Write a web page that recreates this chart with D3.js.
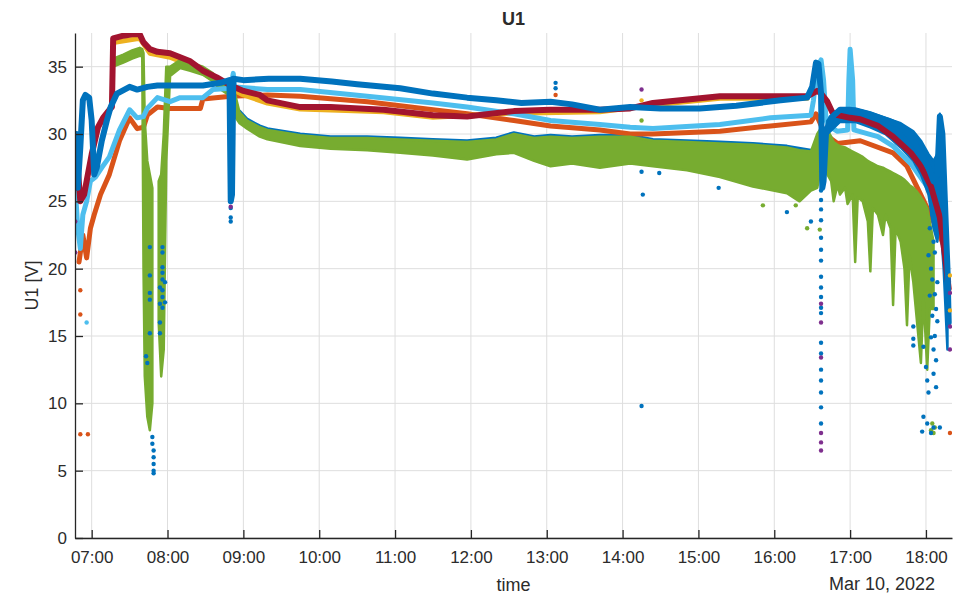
<!DOCTYPE html>
<html>
<head>
<meta charset="utf-8">
<script src="https://cdn.jsdelivr.net/npm/d3@7"></script>
<style>
body { margin: 0; background: #fff; }
svg text { font-family: "Liberation Sans", Arial, sans-serif; fill: #2b2b2b; }
</style>
</head>
<body>
<svg id="drawing_region"></svg>
<script>
// x domain ends and tick settings
const timeStart = "06:46:48";
const timeEnd = "18:20:36";
const yTicks = [0, 5, 10, 15, 20, 25, 30, 35];

// series 1 (blue, mostly hidden under green)
const blueLow = [
    ["08:57",31.7],["09:03",31.1],["09:13",30.6],["09:19",30.4],["09:45",30.0],["10:09",29.8],
    ["10:38",29.8],["11:04",29.7],["11:30",29.6],["11:57",29.5],["12:20",29.7],["12:34",30.1],
    ["12:50",29.8],["13:03",29.9],["13:20",29.8],["13:42",29.9],["14:06",29.9],["14:24",29.6],
    ["14:51",29.5],["15:17",29.4],["15:43",29.3],["16:10",29.1],["16:29",28.8]
];
// series 2 (orange)
const orange = [
    ["06:50",20.5],["06:53",22.5],["06:56",20.8],["06:59",23.0],["07:02",24.0],["07:07",25.5],
    ["07:14",27.0],["07:22",29.5],["07:30",31.2],["07:36",30.4],["07:41",30.5],["07:44",31.4],
    ["07:52",32.0],["08:02",31.9],["08:18",31.9],["08:26",31.9],["08:28",32.6],["08:50",32.8],
    ["09:19",32.9],["09:45",32.8],["10:38",32.4],["11:30",31.8],["11:57",31.5],["12:34",31.0],
    ["13:03",30.6],["13:42",30.3],["14:06",30.0],["14:24",30.0],["15:17",30.2],["15:57",30.6],
    ["16:29",30.9],["16:33",31.5],["16:40",30.0],["16:50",29.3],["17:08",29.5],["17:34",28.6],
    ["17:45",27.6],["18:01",24.5],["18:09",22.9],["18:15",21.5]
];
// series 3 (yellow, under red)
const yellow = [
    ["07:17",36.8],["07:38",37.1],["07:46",36.0],["08:02",35.7],["08:18",35.1],["08:39",33.9],
    ["09:00",32.9],["09:19",32.3],["09:45",31.85],["10:51",31.65],["11:30",31.25],["12:34",31.55],
    ["13:42",31.65],["14:24",32.15],["15:17",32.65],["16:26",32.65]
];
// series 5 (green): time, low edge, high edge
const green = [
    ["07:17",35.0,35.6],["07:25",35.3,35.9],["07:32",35.6,36.2],["07:38",35.8,36.4],["07:40",35.8,36.3],
    ["07:41",20.0,36.0],["07:42",12.0,31.0],["07:44",9.0,28.0],["07:46",8.0,27.0],["07:48",10.0,26.0],
    ["07:49",null,null],
    ["07:53",16.0,26.5],["07:55",12.0,27.0],["07:57",14.0,30.0],["07:59",28.0,35.0],
    ["08:02",34.3,35.0],["08:10",34.9,35.5],["08:18",34.7,35.3],["08:28",34.4,35.0],["08:36",33.9,34.5],
    ["08:42",33.3,33.9],["08:50",32.8,33.6],["08:52",31.5,33.5],["08:57",30.8,31.6],["09:03",30.4,31.0],
    ["09:13",29.8,30.5],["09:19",29.6,30.3],["09:45",29.1,29.9],["10:09",28.9,29.7],["10:38",28.8,29.7],
    ["11:04",28.6,29.6],["11:30",28.4,29.5],["11:57",28.1,29.4],["12:20",28.5,29.6],["12:34",28.6,30.0],
    ["12:50",28.0,29.7],["13:03",27.6,29.8],["13:20",27.8,29.7],["13:42",27.5,29.8],["14:06",27.8,29.8],
    ["14:24",27.6,29.5],["14:51",27.3,29.4],["15:17",26.8,29.3],["15:43",26.1,29.2],["16:10",25.6,29.0],
    ["16:20",25.0,28.8],["16:29",25.8,28.7],["16:34",26.0,30.0],["16:36",27.0,30.3],
    ["16:38",null,null],
    ["16:42",27.0,30.3],["16:45",26.5,29.8],["16:47",25.0,29.4],["16:50",26.2,29.2],["16:52",25.5,29.1],
    ["16:56",26.0,29.0],["16:58",24.8,28.9],["17:02",25.5,28.7],["17:04",20.5,28.6],["17:06",25.3,28.5],
    ["17:10",25.0,28.3],["17:14",23.5,28.0],["17:16",19.8,27.9],["17:18",24.5,27.8],["17:22",24.0,27.6],
    ["17:26",22.5,27.5],["17:28",24.0,27.4],["17:32",23.0,27.2],["17:34",17.3,27.1],["17:36",23.0,27.0],
    ["17:40",22.0,26.8],["17:43",20.0,26.6],["17:45",15.8,26.4],["17:47",21.0,26.2],["17:50",19.0,26.0],
    ["17:53",16.0,25.7],["17:56",13.0,25.3],["17:58",18.0,25.0],["18:01",12.5,24.5],["18:03",17.0,23.5],
    ["18:06",17.0,22.0]
];
// series 6 (light blue)
const lightBlue = [
    ["06:47",26.0],["06:49",23.0],["06:51",21.5],["06:53",24.0],["06:56",25.0],["06:59",26.5],
    ["07:03",26.8],["07:08",27.5],["07:14",28.3],["07:22",30.3],["07:30",31.8],["07:36",31.2],
    ["07:41",31.3],["07:44",31.9],["07:52",32.7],["08:02",32.4],["08:10",32.7],["08:28",32.7],
    ["08:36",33.3],["08:50",33.4],["08:52",34.5],["08:53",33.5],["09:19",33.3],["09:45",33.3],
    ["10:38",32.8],["11:30",32.3],["11:57",32.0],["12:34",31.5],["13:03",31.0],["13:42",30.7],
    ["14:06",30.5],["14:24",30.4],["15:17",30.7],["15:57",31.2],["16:29",31.4],["16:31",32.5],
    ["16:34",35.0],["16:37",35.5],["16:39",34.0],["16:41",31.0],["16:43",30.6],["16:50",30.2],
    ["16:58",30.3],["16:59",34.0],["17:00",36.3],["17:02",34.0],["17:03",30.3],["17:22",29.8],
    ["17:34",29.1],["17:48",27.8],["18:01",26.1],["18:09",24.1],["18:15",21.6],["18:18",19.0]
];
// series 7 (dark red)
const red = [
    ["06:47",26.0],["06:49",27.5],["06:51",25.0],["06:54",25.5],["06:57",27.0],["07:00",28.5],
    ["07:05",30.5],["07:09",31.2],["07:14",31.8],["07:16",32.0],["07:17",37.1],["07:25",37.3],
    ["07:32",37.4],["07:38",37.4],["07:41",36.8],["07:46",36.3],["07:52",36.1],["08:02",36.0],
    ["08:10",35.7],["08:18",35.4],["08:28",34.7],["08:39",34.2],["08:50",33.6],["09:00",33.2],
    ["09:13",32.9],["09:19",32.5],["09:45",32.0],["10:09",32.0],["10:51",31.8],["11:30",31.4],
    ["11:57",31.3],["12:34",31.7],["13:03",31.8],["13:42",31.8],["14:06",31.9],["14:24",32.3],
    ["15:17",32.8],["16:10",32.8],["16:26",32.8],["16:34",33.2],["16:37",33.0],["16:42",32.4],
    ["16:46",31.6],["16:50",31.4],["17:00",31.2],["17:08",31.1],["17:22",30.6],["17:34",29.8],
    ["17:48",28.6],["17:56",27.6],["18:04",26.1],["18:11",23.8],["18:15",21.0],["18:18",18.5]
];
// series 8 (blue, top band)
const blueTop = [
    ["06:47",27.0],["06:48",30.0],["06:49",26.0],["06:51",29.0],["06:53",32.5],["06:55",32.9],
    ["06:58",32.7],["07:00",31.0],["07:02",27.0],["07:04",27.5],["07:08",29.5],["07:12",31.0],
    ["07:15",32.0],["07:20",33.0],["07:30",33.5],["07:36",33.3],["07:44",33.5],["07:52",33.6],
    ["08:10",33.6],["08:28",33.6],["08:42",33.8],["08:49",34.0],["08:50",25.0],["08:51",25.5],
    ["08:52",34.1],["09:00",34.0],["09:20",34.1],["09:45",34.1],["10:10",33.9],["10:30",33.7],
    ["11:04",33.4],["11:30",33.0],["11:57",32.7],["12:20",32.5],["12:40",32.3],["13:03",32.4],
    ["13:20",32.2],["13:42",31.8],["14:06",32.0],["14:30",31.9],["15:01",31.9],["15:30",32.1],
    ["16:05",32.5],["16:26",32.7],["16:30",33.5],["16:33",35.3],["16:35",35.2],["16:37",33.0],
    ["16:38",26.0],["16:39",26.5],["16:41",30.2],["16:45",31.2],["16:52",31.8],["17:00",31.8],
    ["17:14",31.5],["17:30",31.0],["17:40",30.6],["17:50",29.5],["17:56",28.5],["18:02",27.5],
    ["18:06",26.5],["18:09",27.0],["18:11",31.3],["18:13",30.0],["18:15",25.0],["18:17",20.0],
    ["18:18",16.0]
];
// spread of the top blue band after 16:40: time, low, high
const blueSpread = [
    ["16:42",30.0,31.0],["16:52",30.9,31.9],["17:04",30.9,31.9],["17:16",30.5,31.6],["17:28",30.0,31.2],
    ["17:40",29.0,30.8],["17:50",28.0,30.2],["17:56",27.0,29.5],["18:02",25.5,28.5],["18:06",23.0,28.0],
    ["18:09",22.0,28.5],["18:11",24.0,31.5],["18:14",20.0,29.0],["18:17",14.0,22.0]
];

// scattered single points
const blueDots = [
    ["07:43",13.5],["07:44",13.0],["07:46",21.6],["07:46",19.5],["07:46",18.2],["07:46",17.7],["07:46",15.2],
    ["07:48",7.5],["07:48",7.0],["07:49",6.5],["07:49",6.0],["07:49",5.5],["07:49",5.0],["07:49",4.8],
    ["07:56",21.6],["07:56",21.2],["07:56",20.1],["07:56",19.7],["07:56",19.2],["07:56",18.4],["07:56",17.9],["07:56",17.1],
    ["07:54",18.6],["07:54",17.4],["07:54",16.0],["07:54",15.2],["07:58",19.0],["07:58",17.5],
    ["08:50",24.5],["08:50",23.8],["08:50",23.5],
    ["13:07",33.8],["13:07",33.4],["14:15",9.8],["14:15",27.2],["14:29",27.1],["15:16",26.0],["14:16",25.5],
    ["16:10",24.2],["16:29",23.5],
    ["16:37",25.8],["16:37",25.1],["16:37",24.4],["16:37",23.6],["16:37",22.3],["16:37",21.4],["16:37",20.6],
    ["16:37",19.4],["16:37",18.6],["16:37",17.9],["16:37",17.1],["16:37",16.7],["16:37",14.5],["16:37",13.7],
    ["16:37",12.5],["16:37",11.7],["16:37",10.8],["16:37",9.7],["16:37",8.5],
    ["17:50",15.7],["17:50",14.8],["17:50",14.3],["17:58",14.2],["18:00",12.7],["18:01",11.7],["18:02",10.8],
    ["18:06",12.2],["18:08",11.2],["17:58",9.0],["18:01",8.5],["18:06",8.2],["18:11",8.2],["18:04",7.8],
    ["17:57",7.9],["18:03",18.0],["18:05",16.5],["18:07",15.0],["18:09",19.0],["18:02",21.0],["18:06",22.0],
    ["18:04",20.0],["18:05",19.2],["18:07",18.1],["18:08",17.0],["18:09",16.1],["18:04",14.9],["18:06",14.0],
    ["18:08",13.2],["18:03",23.0],["18:05",24.0],["18:07",21.2]
];
const purpleDots = [
    ["06:47",21.2],["06:47",23.5],["08:50",24.6],["14:15",33.3],
    ["16:37",17.4],["16:37",16.0],["16:37",13.4],["16:37",7.8],["16:37",7.1],["16:37",6.5],
    ["18:19",18.2],["18:19",15.7],["18:19",14.0]
];
const orangeDots = [["06:51",7.7],["06:57",7.7],["06:51",18.4],["06:51",16.6],["13:07",32.9],["18:19",7.8]];
const yellowDots = [["14:15",32.5],["18:19",19.5],["18:19",16.9]];
const greenDots = [
    ["14:15",31.0],["15:51",24.7],["16:17",24.7],["16:26",23.0],["16:36",22.9],
    ["18:04",8.0],["18:06",7.8],["18:07",8.2],["18:05",8.5]
];
const lightBlueDots = [["06:56",16.0]];

const config = {
    parent: '#drawing_region',
    width: 970,
    height: 598,
    margin: {top: 33, right: 18, bottom: 60, left: 75},
    title: 'U1',
    xlabel: 'time',
    ylabel: 'U1 [V]',
    datelabel: 'Mar 10, 2022'
};

const colors = {
    blue: '#0072BD', orange: '#D95319', yellow: '#EDB120', purple: '#7E2F8E',
    green: '#77AC30', lightBlue: '#4DBEEE', red: '#A2142F'
};

const parseTime = d3.timeParse("%H:%M");
const parseFull = d3.timeParse("%H:%M:%S");

const svg = d3.select(config.parent)
    .attr('width', config.width)
    .attr('height', config.height);

const inner_width = config.width - config.margin.left - config.margin.right;
const inner_height = config.height - config.margin.top - config.margin.bottom;

const chart = svg.append('g')
    .attr('transform', `translate(${config.margin.left}, ${config.margin.top})`);

const xscale = d3.scaleTime()
    .domain([parseFull(timeStart), parseFull(timeEnd)])
    .range([0, inner_width]);

const yscale = d3.scaleLinear()
    .domain([0, 37.5])
    .range([inner_height, 0]);

const hourTicks = d3.timeHour.range(parseTime("07:00"), parseTime("18:01"));

// grid
chart.append('g').selectAll('line').data(hourTicks).join('line')
    .attr('x1', d => xscale(d)).attr('x2', d => xscale(d))
    .attr('y1', 0).attr('y2', inner_height)
    .attr('stroke', '#dedede').attr('stroke-width', 1);
chart.append('g').selectAll('line').data(yTicks).join('line')
    .attr('x1', 0).attr('x2', inner_width)
    .attr('y1', d => yscale(d)).attr('y2', d => yscale(d))
    .attr('stroke', '#dedede').attr('stroke-width', 1);

svg.append('clipPath').attr('id', 'clip')
    .append('rect').attr('width', inner_width).attr('height', inner_height);

const plot = chart.append('g').attr('clip-path', 'url(#clip)');

const line = d3.line()
    .defined(d => d[1] != null)
    .x(d => xscale(parseTime(d[0])))
    .y(d => yscale(d[1]));

const area = d3.area()
    .defined(d => d[1] != null)
    .x(d => xscale(parseTime(d[0])))
    .y0(d => yscale(d[1]))
    .y1(d => yscale(d[2]));

function drawLine(data, color, width) {
    plot.append('path')
        .datum(data)
        .attr('d', line)
        .attr('fill', 'none')
        .attr('stroke', color)
        .attr('stroke-width', width)
        .attr('stroke-linejoin', 'round')
        .attr('stroke-linecap', 'round');
}

function drawArea(data, color) {
    plot.append('path')
        .datum(data)
        .attr('d', area)
        .attr('fill', color)
        .attr('stroke', color)
        .attr('stroke-width', 2.5)
        .attr('stroke-linejoin', 'round');
}

function drawDots(data, color) {
    plot.append('g').selectAll('circle').data(data).join('circle')
        .attr('cx', d => xscale(parseTime(d[0])))
        .attr('cy', d => yscale(d[1]))
        .attr('r', 2.2)
        .attr('fill', color);
}

drawLine(blueLow, colors.blue, 3);
drawLine(orange, colors.orange, 5);
drawLine(yellow, colors.yellow, 5);
drawArea(green, colors.green);
drawLine(lightBlue, colors.lightBlue, 5);
drawArea(blueSpread, colors.blue);
drawLine(red, colors.red, 6);
drawLine(blueTop, colors.blue, 6);

drawDots(greenDots, colors.green);
drawDots(orangeDots, colors.orange);
drawDots(yellowDots, colors.yellow);
drawDots(lightBlueDots, colors.lightBlue);
drawDots(blueDots, colors.blue);
drawDots(purpleDots, colors.purple);

// axes
const xaxis = d3.axisBottom(xscale)
    .tickValues(hourTicks)
    .tickFormat(d3.timeFormat("%H:%M"))
    .tickSizeInner(-8)
    .tickSizeOuter(0)
    .tickPadding(13);

const yaxis = d3.axisLeft(yscale)
    .tickValues(yTicks)
    .tickSizeInner(-8)
    .tickSizeOuter(0)
    .tickPadding(8);

const xaxis_group = chart.append('g')
    .attr('transform', `translate(0, ${inner_height})`)
    .call(xaxis);

const yaxis_group = chart.append('g')
    .call(yaxis);

[xaxis_group, yaxis_group].forEach(g => {
    g.select('.domain').attr('stroke', '#262626').attr('stroke-width', 1.3);
    g.selectAll('.tick line').attr('stroke', '#262626').attr('stroke-width', 1.3);
    g.selectAll('.tick text')
        .style('font-size', '17px')
        .style('font-family', '"Liberation Sans", Arial, sans-serif')
        .attr('fill', '#2b2b2b');
});

// labels
svg.append('text')
    .style('font-size', '18px')
    .style('font-weight', 'bold')
    .attr('text-anchor', 'middle')
    .attr('x', config.margin.left + inner_width / 2)
    .attr('y', 25)
    .text(config.title);

svg.append('text')
    .style('font-size', '18px')
    .attr('text-anchor', 'middle')
    .attr('x', config.margin.left + inner_width / 2)
    .attr('y', 591)
    .text(config.xlabel);

svg.append('text')
    .style('font-size', '18px')
    .attr('text-anchor', 'end')
    .attr('x', 935)
    .attr('y', 590)
    .text(config.datelabel);

svg.append('text')
    .style('font-size', '18px')
    .attr('transform', 'rotate(-90)')
    .attr('text-anchor', 'middle')
    .attr('x', -(config.margin.top + inner_height / 2))
    .attr('y', 38)
    .text(config.ylabel);
</script>
</body>
</html>
